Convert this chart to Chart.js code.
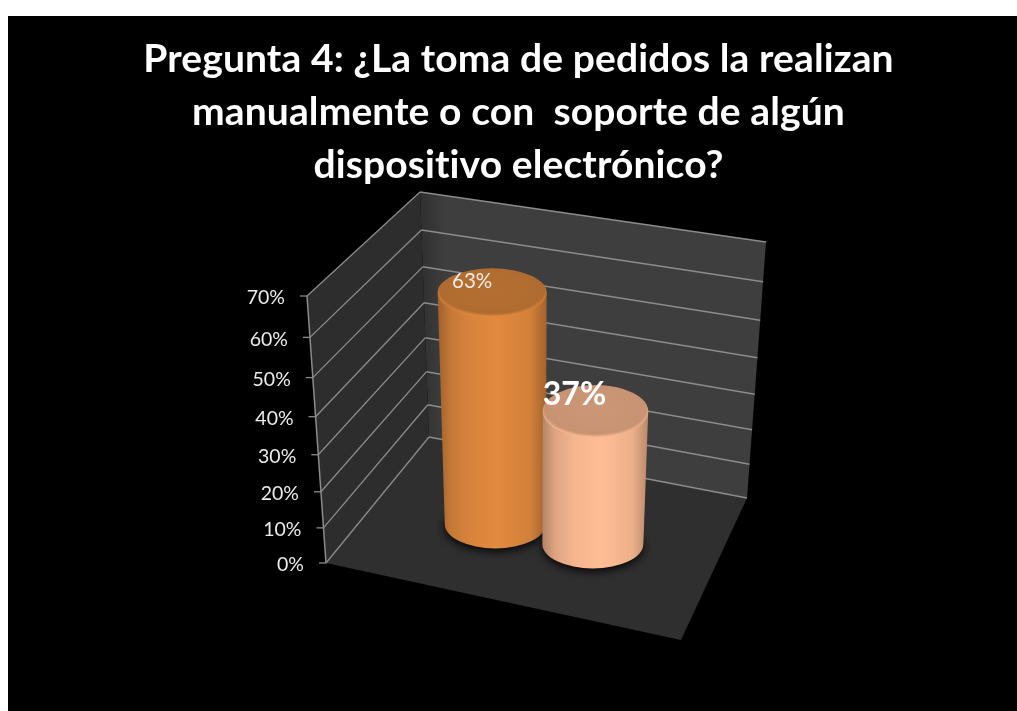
<!DOCTYPE html>
<html>
<head>
<meta charset="utf-8">
<title>Pregunta 4</title>
<script src="https://cdn.jsdelivr.net/npm/chart.js@4/dist/chart.umd.js"></script>
<style>
    html, body { margin: 0; height: 100%; background: #fff; overflow: hidden; }
    canvas { position: absolute; left: 8px; top: 16px; }
</style>
</head>
<body>
<canvas id="myChart" width="1021" height="695"></canvas>
<script>
const categories = ['Manual', 'Dispositivo electrónico'];
const percentages = [63, 37];
const barColors = ['#e28a3e', '#ffbd94'];
const yTickLabels = ['0%', '10%', '20%', '30%', '40%', '50%', '60%', '70%'];
const titleLines = [
    'Pregunta 4: ¿La toma de pedidos la realizan',
    'manualmente o con  soporte de algún',
    'dispositivo electrónico?'
];

// Corners of the 3D box, in canvas pixels
const box = {
    frontLeftBottom: [318, 547], frontLeftTop: [299, 280],
    backLeftBottom: [421, 421], backLeftTop: [412, 176],
    backRightBottom: [739, 482], backRightTop: [758, 226],
    frontRightBottom: [673, 624], frontRightTop: [686, 346]
};

function mix(a, b, t) {
    return [a[0] + (b[0] - a[0]) * t, a[1] + (b[1] - a[1]) * t];
}

// Bars get squeezed a bit towards the back, so the height goes through a small perspective
function perspective(t) {
    return t / (1 + 0.1 * (1 - t));
}

// u = left to right, h = 0 floor to 1 top of scale, d = 0 front to 1 back
function project(u, h, d) {
    const s = perspective(h);
    const front = mix(
        mix(box.frontLeftBottom, box.frontLeftTop, s),
        mix(box.frontRightBottom, box.frontRightTop, s), u);
    const back = mix(
        mix(box.backLeftBottom, box.backLeftTop, s),
        mix(box.backRightBottom, box.backRightTop, s), u);
    return mix(front, back, d);
}

function polygon(ctx, points, color) {
    ctx.beginPath();
    points.forEach(function(p, i) {
        if (i === 0) ctx.moveTo(p[0], p[1]);
        else ctx.lineTo(p[0], p[1]);
    });
    ctx.closePath();
    ctx.fillStyle = color;
    ctx.fill();
}

function line(ctx, a, b, color, width) {
    ctx.beginPath();
    ctx.moveTo(a[0], a[1]);
    ctx.lineTo(b[0], b[1]);
    ctx.strokeStyle = color;
    ctx.lineWidth = width;
    ctx.stroke();
}

function shade(hex, factor) {
    const n = parseInt(hex.slice(1), 16);
    const r = Math.round(((n >> 16) & 255) * factor);
    const g = Math.round(((n >> 8) & 255) * factor);
    const b = Math.round((n & 255) * factor);
    return 'rgb(' + r + ',' + g + ',' + b + ')';
}

function drawCylinder(ctx, u, h, color) {
    const du = 0.15;
    const d = 0.5;
    const base = project(u, 0, d);
    const top = project(u, h, d);
    const baseRx = (project(u + du, 0, d)[0] - project(u - du, 0, d)[0]) / 2;
    const topRx = (project(u + du, h, d)[0] - project(u - du, h, d)[0]) / 2;
    const baseRy = baseRx * 0.48;
    const topRy = topRx * (0.58 - 0.15 * h);

    // soft shadow on the floor
    ctx.save();
    ctx.shadowColor = 'rgba(0,0,0,0.9)';
    ctx.shadowBlur = 10;
    ctx.shadowOffsetY = 3;
    ctx.fillStyle = '#151515';
    ctx.beginPath();
    ctx.ellipse(base[0], base[1], baseRx, baseRy, 0, 0, Math.PI * 2);
    ctx.fill();
    ctx.restore();

    // body
    const left = Math.min(top[0] - topRx, base[0] - baseRx);
    const right = Math.max(top[0] + topRx, base[0] + baseRx);
    const side = ctx.createLinearGradient(left, 0, right, 0);
    side.addColorStop(0, shade(color, 0.7));
    side.addColorStop(0.12, shade(color, 0.87));
    side.addColorStop(0.3, shade(color, 0.96));
    side.addColorStop(0.55, color);
    side.addColorStop(0.85, shade(color, 0.93));
    side.addColorStop(1, shade(color, 0.72));
    ctx.beginPath();
    ctx.moveTo(top[0] - topRx, top[1]);
    ctx.lineTo(base[0] - baseRx, base[1]);
    ctx.ellipse(base[0], base[1], baseRx, baseRy, 0, Math.PI, 0, true);
    ctx.lineTo(top[0] + topRx, top[1]);
    ctx.closePath();
    ctx.fillStyle = side;
    ctx.fill();

    // cap, the rim catches the light along its lower edge only
    ctx.save();
    ctx.translate(top[0], top[1]);
    ctx.scale(1, topRy / topRx);
    const cap = ctx.createRadialGradient(0, -topRx * 0.1, 0, 0, -topRx * 0.1, topRx * 1.1);
    cap.addColorStop(0, shade(color, 0.8));
    cap.addColorStop(0.87, shade(color, 0.78));
    cap.addColorStop(0.97, shade(color, 0.96));
    cap.addColorStop(1, color);
    ctx.beginPath();
    ctx.arc(0, 0, topRx, 0, Math.PI * 2);
    ctx.fillStyle = cap;
    ctx.fill();
    ctx.restore();
}

const box3dPlugin = {
    id: 'box3d',
    beforeDatasetsDraw(chart) {
        const ctx = chart.ctx;
        const yScale = chart.scales.y;
        const area = chart.chartArea;
        const heightOf = function(v) {
            return (yScale.bottom - yScale.getPixelForValue(v)) / (yScale.bottom - yScale.top);
        };
        const barU = function(bar) {
            return 0.205 + 0.58 * (bar.x - area.left) / (area.right - area.left);
        };

        // floor and walls
        polygon(ctx, [box.frontLeftBottom, box.backLeftBottom, box.backRightBottom, box.frontRightBottom], '#2f2f2f');
        polygon(ctx, [box.frontLeftBottom, box.frontLeftTop, box.backLeftTop, box.backLeftBottom], '#2d2d2d');
        const wall = ctx.createLinearGradient(box.backLeftTop[0], 0, box.backLeftTop[0] + 26, 0);
        wall.addColorStop(0, '#303030');
        wall.addColorStop(1, '#3e3e3e');
        polygon(ctx, [box.backLeftBottom, box.backLeftTop, box.backRightTop, box.backRightBottom], wall);

        // gridlines, tick marks and tick labels
        const gridColor = '#8c8c8c';
        ctx.font = '19.5px Lato';
        ctx.textAlign = 'right';
        ctx.textBaseline = 'middle';
        yScale.ticks.forEach(function(tick) {
            const h = heightOf(tick.value);
            const front = project(0, h, 0);
            const corner = project(0, h, 1);
            const end = project(1, h, 1);
            line(ctx, front, corner, gridColor, 1.3);
            line(ctx, corner, end, gridColor, 1.5);
            line(ctx, [front[0] - 7, front[1]], front, gridColor, 1.3);
            ctx.fillStyle = '#ececec';
            ctx.fillText(tick.label, front[0] - 22, front[1] + 2);
        });
        line(ctx, box.frontLeftBottom, box.frontLeftTop, gridColor, 1.5);

        // cylinders, drawn from the values through the scales
        const meta = chart.getDatasetMeta(0);
        const labelFonts = ['20.5px Lato', 'bold 32px Lato'];
        const labelOffsets = [[-20, -11], [-21, -17]];
        meta.data.forEach(function(bar, i) {
            drawCylinder(ctx, barU(bar), heightOf(percentages[i]), barColors[i]);
        });
        meta.data.forEach(function(bar, i) {
            const top = project(barU(bar), heightOf(percentages[i]), 0.5);
            ctx.font = labelFonts[i];
            ctx.textAlign = 'center';
            ctx.textBaseline = 'middle';
            ctx.fillStyle = i === 0 ? '#f3ece6' : '#ffffff';
            ctx.fillText(percentages[i] + '%', top[0] + labelOffsets[i][0], top[1] + labelOffsets[i][1]);
        });
        return false;
    }
};

// Title sits over the whole canvas, not only the padded chart box
const slideTitle = {
    id: 'slideTitle',
    afterDraw(chart) {
        const ctx = chart.ctx;
        ctx.save();
        ctx.font = 'bold 39px Lato';
        ctx.letterSpacing = '0.1px'; // also keeps Lato from joining "ti"
        ctx.textAlign = 'center';
        ctx.textBaseline = 'alphabetic';
        ctx.fillStyle = '#ffffff';
        titleLines.forEach(function(text, i) {
            ctx.fillText(text, chart.width / 2, 56 + i * 53);
        });
        ctx.restore();
    }
};

new Chart(document.getElementById('myChart'), {
    type: 'bar',
    data: {
        labels: categories,
        datasets: [{
            data: percentages,
            backgroundColor: barColors
        }]
    },
    options: {
        responsive: false,
        animation: false,
        layout: {
            padding: { left: 318, right: 348, top: 280, bottom: 148 }
        },
        plugins: {
            legend: { display: false },
            tooltip: { enabled: false },
            title: { display: false }
        },
        scales: {
            x: { display: false },
            y: {
                display: false,
                min: 0,
                max: 70,
                ticks: {
                    stepSize: 10,
                    callback: function(value) {
                        return yTickLabels[value / 10];
                    }
                }
            }
        }
    },
    plugins: [{
        id: 'blackBackground',
        beforeDraw(chart) {
            chart.ctx.fillStyle = '#000';
            chart.ctx.fillRect(0, 0, chart.width, chart.height);
        }
    }, box3dPlugin, slideTitle]
});
</script>
</body>
</html>
